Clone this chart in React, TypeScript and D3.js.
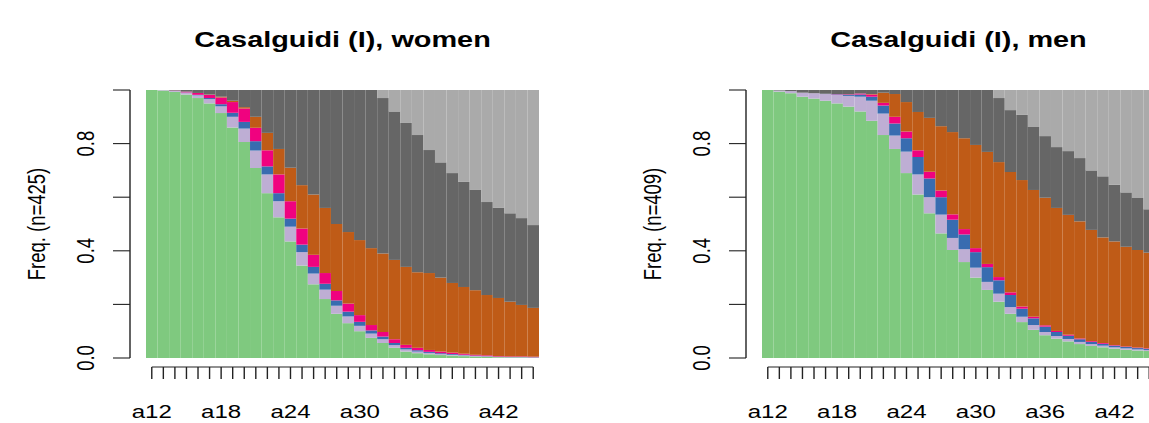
import React from "react";
import * as d3 from "d3";

const ages = ["a12","a13","a14","a15","a16","a17","a18","a19","a20","a21","a22","a23","a24","a25","a26","a27","a28","a29","a30","a31","a32","a33","a34","a35","a36","a37","a38","a39","a40","a41","a42","a43","a44","a45"];
const labelledAges = ["a12","a18","a24","a30","a36","a42"];
const yTicks = [0, 0.2, 0.4, 0.6, 0.8, 1.0];
const yLabelled = [0, 0.4, 0.8];
const stateKeys = ["s1","s2","s3","s4","s5","s6","s7"];
const stateColors = ["#7FC97F","#BEAED4","#386CB0","#F0027F","#BF5B17","#666666","#AAAAAA"];

// women
const women1 = [1.000,.998,.993,.983,.970,.950,.914,.860,.806,.709,.615,.525,.435,.345,.275,.220,.165,.130,.100,.075,.056,.038,.024,.018,.014,.011,.009,.007,.005,.004,.003,.002,.002,.001];
const women2 = [0,.002,.004,.007,.010,.016,.025,.040,.050,.065,.070,.060,.055,.050,.040,.035,.030,.025,.020,.016,.014,.010,.008,.006,.005,.004,.003,.003,.002,.002,.001,.001,.001,.001];
const women3 = [0,0,0,.001,.002,.004,.008,.015,.025,.035,.030,.030,.030,.028,.025,.022,.020,.018,.015,.012,.010,.008,.006,.005,.004,.003,.003,.002,.002,.001,.001,.001,.001,.001];
const women4 = [0,0,.001,.003,.007,.012,.025,.040,.050,.050,.060,.070,.065,.060,.045,.040,.035,.030,.025,.020,.017,.014,.011,.009,.007,.006,.005,.004,.003,.003,.002,.002,.002,.002];
const women5 = [0,0,0,0,0,.001,.003,.005,.005,.041,.065,.095,.125,.162,.225,.243,.250,.267,.280,.287,.293,.296,.291,.282,.287,.276,.260,.249,.241,.225,.217,.204,.192,.182];
const women6 = [0,0,.002,.006,.011,.017,.025,.040,.064,.100,.160,.220,.290,.355,.390,.440,.500,.530,.560,.590,.580,.554,.537,.512,.459,.430,.410,.392,.374,.347,.336,.330,.324,.309];
const women7 = [0,0,0,0,0,0,0,0,0,0,0,0,0,0,0,0,0,0,0,0,.030,.080,.123,.168,.224,.270,.310,.343,.373,.418,.440,.460,.478,.504];

// men
const men1 = [1.000,.994,.988,.975,.968,.960,.950,.938,.920,.885,.832,.780,.690,.610,.540,.465,.403,.358,.300,.254,.210,.165,.134,.105,.085,.072,.062,.052,.045,.040,.035,.031,.028,.026];
const men2 = [0,.004,.008,.015,.020,.025,.032,.040,.055,.075,.080,.050,.080,.075,.060,.070,.045,.048,.037,.030,.030,.025,.020,.018,.012,.010,.009,.008,.007,.006,.005,.005,.004,.004];
const men3 = [0,0,0,0,0,.001,.002,.004,.008,.015,.030,.045,.050,.065,.070,.065,.068,.055,.058,.055,.050,.045,.030,.025,.020,.015,.012,.010,.008,.007,.006,.005,.005,.004];
const men4 = [0,0,0,0,0,0,.001,.002,.004,.008,.010,.025,.025,.025,.025,.025,.020,.020,.015,.012,.012,.010,.008,.006,.005,.004,.004,.003,.003,.003,.002,.002,.002,.002];
const men5 = [0,0,0,0,0,0,0,0,0,.002,.038,.085,.110,.143,.201,.240,.307,.339,.385,.418,.429,.449,.472,.473,.476,.459,.447,.437,.415,.394,.387,.372,.364,.357];
const men6 = [0,.002,.004,.010,.012,.014,.015,.016,.013,.015,.010,.015,.045,.082,.104,.135,.157,.180,.205,.231,.239,.231,.243,.235,.230,.227,.238,.236,.222,.228,.211,.203,.194,.162];
const men7 = [0,0,0,0,0,0,0,0,0,0,0,0,0,0,0,0,0,0,0,0,.030,.075,.093,.138,.172,.213,.228,.254,.300,.322,.354,.382,.403,.445];

const FONT = "'Liberation Sans', Arial, Helvetica, sans-serif";
const SX = 1.3;

type PanelProps = { dx: number; title: string; ylab: string; series: number[][] };

function Panel({ dx, title, ylab, series }: PanelProps) {
  const left = 146 + dx, right = 539 + dx, top = 90, bottom = 358;
  const x = d3.scaleBand<string>().domain(ages).range([left, right]).paddingInner(0).paddingOuter(0);
  const y = d3.scaleLinear().domain([0, 1]).range([bottom, top]);
  const rows = ages.map((a, i) => {
    const r: any = { age: a };
    stateKeys.forEach((k, j) => (r[k] = series[j][i]));
    return r;
  });
  const stacked = d3.stack<any>().keys(stateKeys)(rows);
  const axisX = left - 16;
  const fs = 18.5;
  const xAxisY = 367;
  const cx = (a: string) => (x(a) as number) + x.bandwidth() / 2;
  return (
    <g>
      <text transform={`translate(${(left + right) / 2},47) scale(${SX},1)`} textAnchor="middle"
        fontFamily={FONT} fontWeight="bold" fontSize={22.2} fill="#000">{title}</text>
      {stacked.map((layer, j) => (
        <g key={j} fill={stateColors[j]}>
          {layer.map((d, i) => (
            <rect key={i} x={x(ages[i])} width={x.bandwidth()} y={y(d[1])} height={Math.max(0, y(d[0]) - y(d[1]))} />
          ))}
        </g>
      ))}
      {/* y axis */}
      <line x1={axisX} x2={axisX} y1={y(0)} y2={y(1)} stroke="#222" strokeWidth={1.4} />
      {yTicks.map((t) => (
        <line key={t} x1={axisX - 17} x2={axisX} y1={y(t)} y2={y(t)} stroke="#222" strokeWidth={1.1} />
      ))}
      {yLabelled.map((t) => (
        <text key={t} transform={`translate(${axisX - 36},${y(t)}) rotate(-90) scale(1,${SX})`} textAnchor="middle"
          fontFamily={FONT} fontSize={fs} fill="#000">{t.toFixed(1)}</text>
      ))}
      <text transform={`translate(${left - 101},${(top + bottom) / 2}) rotate(-90) scale(1,${SX})`} textAnchor="middle"
        fontFamily={FONT} fontSize={fs} fill="#000">{ylab}</text>
      {/* x axis */}
      <line x1={cx(ages[0])} x2={cx(ages[ages.length - 1])} y1={xAxisY} y2={xAxisY} stroke="#222" strokeWidth={1.1} />
      {ages.map((a) => (
        <line key={a} x1={cx(a)} x2={cx(a)} y1={xAxisY} y2={xAxisY + 12} stroke="#222" strokeWidth={1.4} />
      ))}
      {labelledAges.map((a) => (
        <text key={a} transform={`translate(${cx(a)},418) scale(${SX},1)`} textAnchor="middle"
          fontFamily={FONT} fontSize={fs} fill="#000">{a}</text>
      ))}
    </g>
  );
}

export default function App() {
  return (
    <svg width={1149} height={423} style={{ position: "absolute", left: 0, top: 0, background: "#fff" }}>
      <rect x={0} y={0} width={1149} height={423} fill="#fff" />
      <Panel dx={0} title="Casalguidi (I), women" ylab="Freq. (n=425)"
        series={[women1, women2, women3, women4, women5, women6, women7]} />
      <Panel dx={616} title="Casalguidi (I), men" ylab="Freq. (n=409)"
        series={[men1, men2, men3, men4, men5, men6, men7]} />
    </svg>
  );
}
